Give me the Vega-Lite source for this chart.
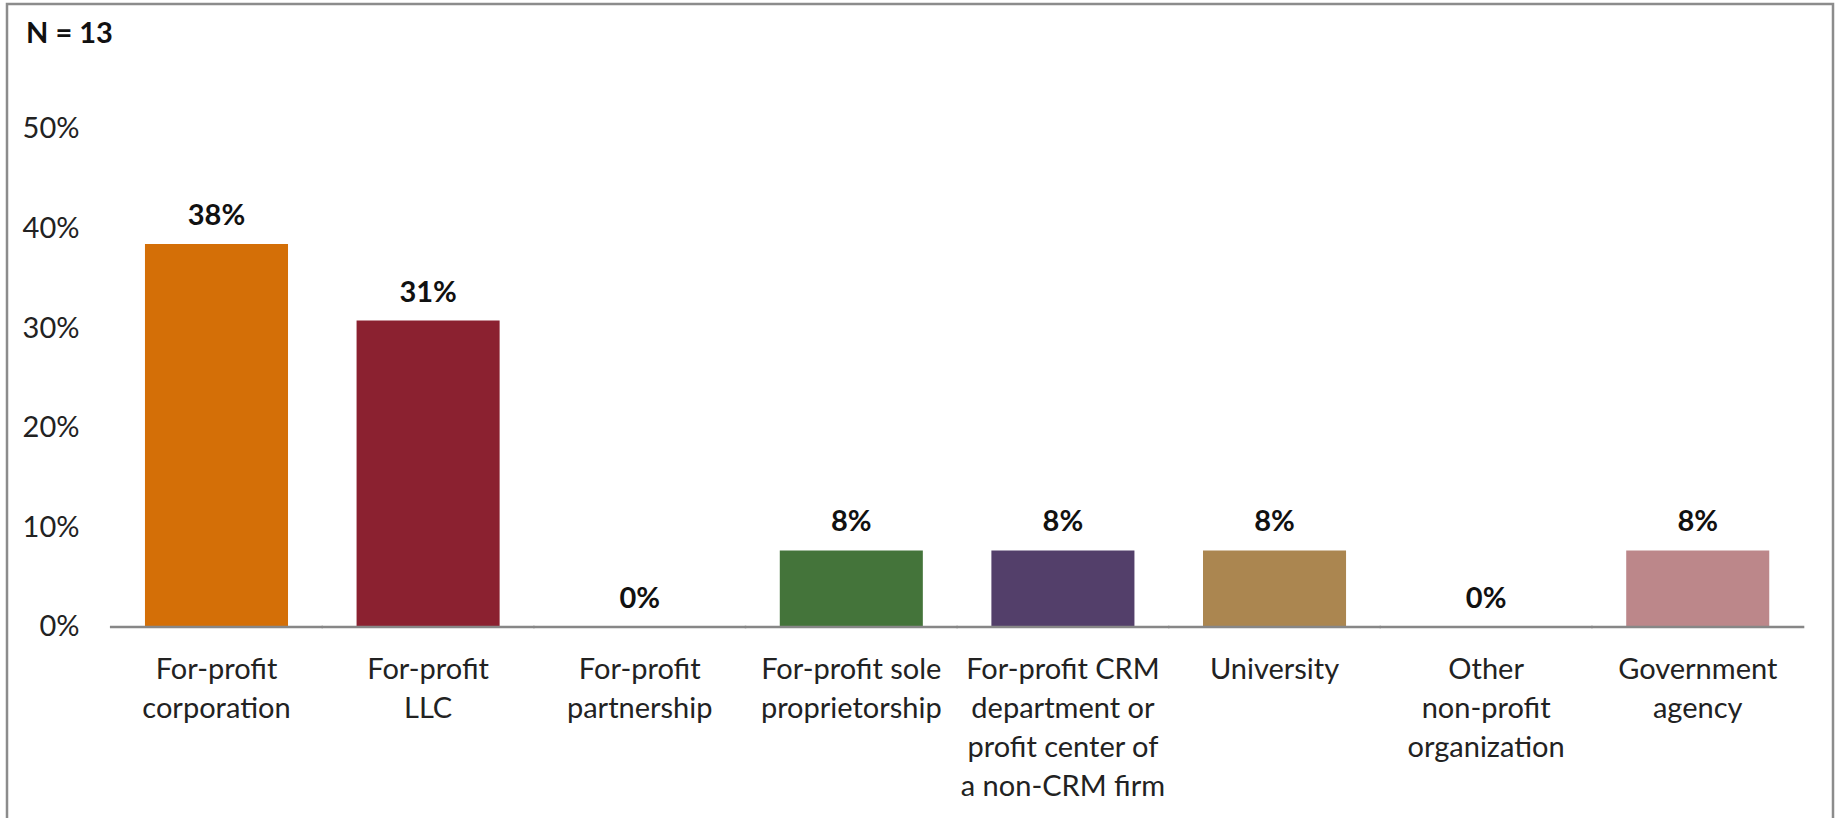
{
  "$schema": "https://vega.github.io/schema/vega-lite/v6.json",
  "autosize": "none",
  "width": 1826,
  "height": 818,
  "padding": {"left": 7, "top": 4, "right": 4, "bottom": 0},
  "background": "white",
  "config": {"view": {"stroke": "#8c8c8c", "strokeWidth": 2.5}, "font": "Lato"},
  "title": {"text": "N = 13", "anchor": "start", "frame": "group", "orient": "top", "offset": -42, "baseline": "alphabetic", "dx": 19, "dy": 26, "fontSize": 29, "fontWeight": "bold", "font": "Lato", "color": "#111111"},
  "data": {"values": [
    {"type": "For-profit corporation", "value": 0.3846},
    {"type": "For-profit LLC", "value": 0.3077},
    {"type": "For-profit partnership", "value": 0},
    {"type": "For-profit sole proprietorship", "value": 0.0769},
    {"type": "For-profit CRM department or profit center of a non-CRM firm", "value": 0.0769},
    {"type": "University", "value": 0.0769},
    {"type": "Other non-profit organization", "value": 0},
    {"type": "Government agency", "value": 0.0769}
  ]},
  "encoding": {
    "x": {
      "field": "type", "type": "nominal",
      "scale": {
        "domain": ["For-profit corporation", "For-profit LLC", "For-profit partnership", "For-profit sole proprietorship", "For-profit CRM department or profit center of a non-CRM firm", "University", "Other non-profit organization", "Government agency"],
        "paddingInner": 0.324, "paddingOuter": 0.4766, "align": 0.684
      },
      "axis": {
        "orient": "bottom", "offset": -195, "domain": false, "ticks": false, "grid": false,
        "labelPadding": 28, "labelFontSize": 29, "labelFont": "Lato", "labelLineHeight": 39,
        "labelColor": "#222222", "labelAngle": 0, "labelLimit": 400, "labelOverlap": false,
        "labelAlign": "center", "labelBaseline": "top", "title": null,
        "labelExpr": "({'For-profit corporation': ['For-profit', 'corporation'], 'For-profit LLC': ['For-profit', 'LLC'], 'For-profit partnership': ['For-profit', 'partnership'], 'For-profit sole proprietorship': ['For-profit sole', 'proprietorship'], 'For-profit CRM department or profit center of a non-CRM firm': ['For-profit CRM', 'department or', 'profit center of', 'a non-CRM firm'], 'University': ['University'], 'Other non-profit organization': ['Other', 'non-profit', 'organization'], 'Government agency': ['Government', 'agency']})[datum.value]"
      }
    },
    "y": {
      "field": "value", "type": "quantitative",
      "scale": {"domain": [-0.1958, 0.6255], "nice": false, "zero": false},
      "axis": {
        "orient": "left", "offset": -80, "values": [0, 0.1, 0.2, 0.3, 0.4, 0.5], "format": ".0%",
        "domain": false, "ticks": false, "grid": false, "labelPadding": 8,
        "labelFontSize": 29, "labelFont": "Lato", "labelColor": "#222222", "title": null
      }
    }
  },
  "layer": [
    {
      "mark": {"type": "bar"},
      "encoding": {
        "y2": {"datum": 0},
        "color": {
          "field": "type", "type": "nominal", "legend": null,
          "scale": {
            "domain": ["For-profit corporation", "For-profit LLC", "For-profit partnership", "For-profit sole proprietorship", "For-profit CRM department or profit center of a non-CRM firm", "University", "Other non-profit organization", "Government agency"],
            "range": ["#D46F07", "#8B2130", "#7F7F7F", "#44743A", "#533F6A", "#AB8650", "#7F7F7F", "#BC878A"]
          }
        }
      }
    },
    {
      "mark": {"type": "text", "baseline": "alphabetic", "dy": -19, "fontSize": 29, "fontWeight": "bold", "font": "Lato", "color": "#111111"},
      "encoding": {
        "text": {"field": "value", "type": "quantitative", "format": ".0%"}
      }
    },
    {
      "mark": {"type": "rule", "color": "#878787", "strokeWidth": 2.5},
      "encoding": {
        "x": {"field": "type", "type": "nominal", "bandPosition": -0.245},
        "x2": {"field": "type", "bandPosition": 1.245},
        "y": {"datum": 0, "type": "quantitative"}
      }
    }
  ]
}
